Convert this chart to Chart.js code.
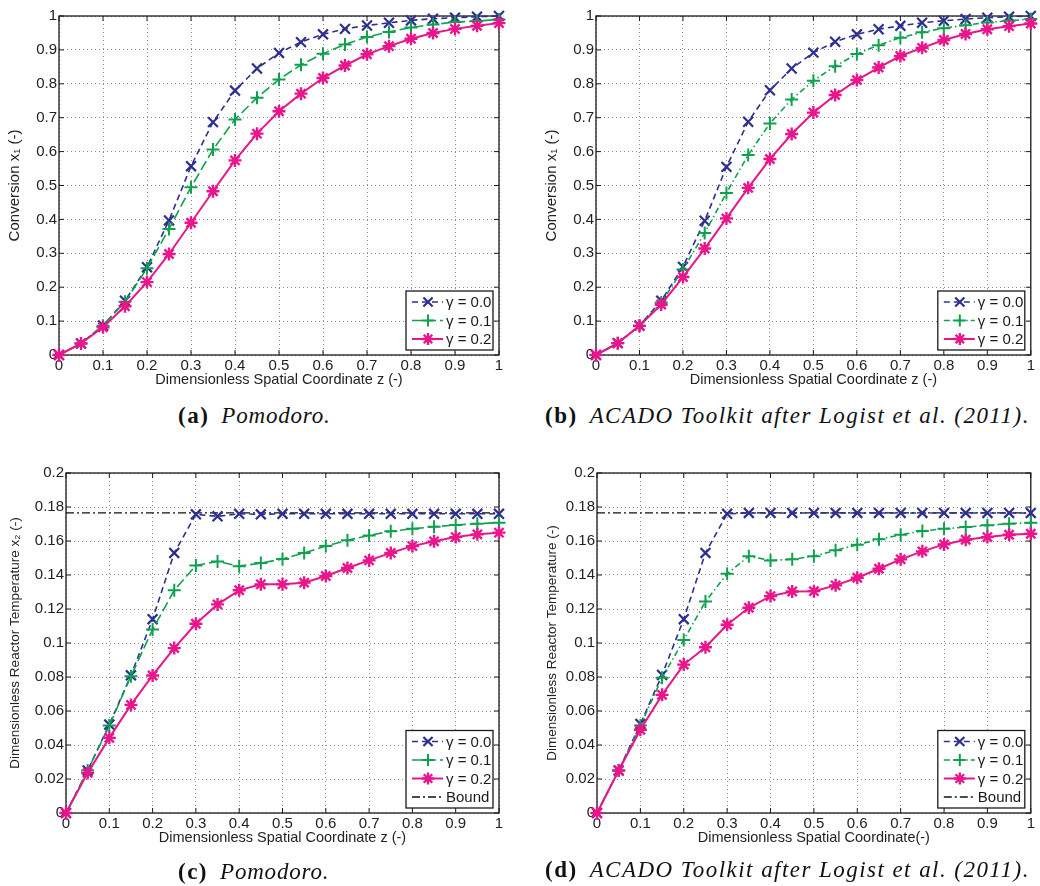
<!DOCTYPE html>
<html>
<head>
<meta charset="utf-8">
<script src="https://cdn.jsdelivr.net/npm/chart.js@4.4.1/dist/chart.umd.min.js"></script>
<style>
  html, body { margin: 0; padding: 0; background: #fff; }
  body { width: 1040px; height: 886px; position: relative; overflow: hidden; }
  canvas { position: absolute; }
  .caption {
    position: absolute;
    font-family: "Liberation Serif", "DejaVu Serif", serif;
    font-size: 23px;
    line-height: 1;
    white-space: nowrap;
    color: #111;
  }
  .caption b { font-weight: bold; margin-right: 12px; letter-spacing: 1.5px; }
  .caption i { font-style: italic; letter-spacing: 0.8px; }
  .caption i.long { letter-spacing: 1.45px; }
</style>
</head>
<body>
<canvas id="chartA" width="520" height="400" style="left:0;top:0"></canvas>
<canvas id="chartB" width="520" height="400" style="left:520px;top:0"></canvas>
<canvas id="chartC" width="520" height="420" style="left:0;top:440px"></canvas>
<canvas id="chartD" width="520" height="420" style="left:520px;top:440px"></canvas>

<div class="caption" style="left:178px;top:404px"><b>(a)</b><i>Pomodoro.</i></div>
<div class="caption" style="left:545px;top:404px"><b>(b)</b><i class="long">ACADO Toolkit after Logist et al. (2011).</i></div>
<div class="caption" style="left:178px;top:860px"><b>(c)</b><i>Pomodoro.</i></div>
<div class="caption" style="left:545px;top:858px"><b>(d)</b><i class="long">ACADO Toolkit after Logist et al. (2011).</i></div>

<script>
// spatial coordinate z, shared by all four panels
const zValues = [0, 0.05, 0.1, 0.15, 0.2, 0.25, 0.3, 0.35, 0.4, 0.45, 0.5,
  0.55, 0.6, 0.65, 0.7, 0.75, 0.8, 0.85, 0.9, 0.95, 1];

const xTicks = [0, 0.1, 0.2, 0.3, 0.4, 0.5, 0.6, 0.7, 0.8, 0.9, 1];
const convTicks = [0, 0.1, 0.2, 0.3, 0.4, 0.5, 0.6, 0.7, 0.8, 0.9, 1];
const tempTicks = [0, 0.02, 0.04, 0.06, 0.08, 0.1, 0.12, 0.14, 0.16, 0.18, 0.2];

const legendLabels = ["γ = 0.0", "γ = 0.1", "γ = 0.2", "Bound"];

// (a) conversion, Pomodoro
const convPomG0 = [0, 0.034, 0.087, 0.16, 0.259, 0.397, 0.557, 0.687, 0.78, 0.845, 0.891,
  0.923, 0.946, 0.962, 0.972, 0.98, 0.987, 0.992, 0.995, 0.998, 1.0];
const convPomG1 = [0, 0.034, 0.086, 0.157, 0.256, 0.372, 0.495, 0.606, 0.695, 0.759, 0.813,
  0.856, 0.889, 0.916, 0.938, 0.953, 0.966, 0.975, 0.982, 0.985, 0.99];
const convPomG2 = [0, 0.034, 0.082, 0.144, 0.215, 0.298, 0.39, 0.483, 0.574, 0.653, 0.719,
  0.771, 0.817, 0.854, 0.887, 0.911, 0.933, 0.95, 0.962, 0.971, 0.979];

// (b) conversion, ACADO
const convAcaG0 = [0, 0.035, 0.087, 0.16, 0.26, 0.396, 0.555, 0.688, 0.781, 0.845, 0.892,
  0.924, 0.946, 0.961, 0.971, 0.98, 0.986, 0.991, 0.995, 0.998, 1.0];
const convAcaG1 = [0, 0.035, 0.086, 0.155, 0.252, 0.36, 0.478, 0.59, 0.683, 0.754, 0.809,
  0.852, 0.888, 0.914, 0.936, 0.952, 0.964, 0.973, 0.981, 0.986, 0.991];
const convAcaG2 = [0, 0.035, 0.086, 0.149, 0.23, 0.314, 0.403, 0.493, 0.578, 0.652, 0.715,
  0.767, 0.811, 0.848, 0.882, 0.906, 0.929, 0.947, 0.961, 0.97, 0.978];

// (c) temperature, Pomodoro
const tempPomG0 = [0, 0.025, 0.052, 0.081, 0.114, 0.153, 0.1757, 0.1745, 0.176, 0.1757, 0.176,
  0.176, 0.176, 0.176, 0.176, 0.176, 0.176, 0.176, 0.176, 0.176, 0.176];
const tempPomG1 = [0, 0.025, 0.0514, 0.0805, 0.108, 0.131, 0.1456, 0.148, 0.1452, 0.147, 0.1494,
  0.153, 0.157, 0.1604, 0.1633, 0.1657, 0.1672, 0.1684, 0.1694, 0.1702, 0.1708];
const tempPomG2 = [0, 0.0236, 0.0442, 0.0636, 0.0809, 0.097, 0.1113, 0.1227, 0.131, 0.1345, 0.1345,
  0.1355, 0.1394, 0.1441, 0.1486, 0.153, 0.157, 0.1598, 0.1623, 0.1639, 0.1649];

// (d) temperature, ACADO
const tempAcaG0 = [0, 0.025, 0.0524, 0.0812, 0.114, 0.153, 0.176, 0.1765, 0.1765, 0.1765, 0.1765,
  0.1765, 0.1765, 0.1765, 0.1765, 0.1765, 0.1765, 0.1765, 0.1765, 0.1765, 0.1765];
const tempAcaG1 = [0, 0.025, 0.0514, 0.0795, 0.1018, 0.1244, 0.1407, 0.1511, 0.1486, 0.1492, 0.1511,
  0.1545, 0.1578, 0.161, 0.1637, 0.1659, 0.1672, 0.1682, 0.1692, 0.1702, 0.1708];
const tempAcaG2 = [0, 0.025, 0.049, 0.0695, 0.0873, 0.0975, 0.1107, 0.1207, 0.1276, 0.1303, 0.1305,
  0.1339, 0.1384, 0.1437, 0.1492, 0.1539, 0.158, 0.1607, 0.1623, 0.1637, 0.1643];

const boundValue = 0.1765;
const boundRange = [0, 1];

const BLUE = "#2d2f8f";
const GREEN = "#0fa14f";
const PINK = "#e8168b";
const FONT = "'Liberation Sans', Arial, sans-serif";

const toPoints = (ys) => ys.map((y, i) => ({ x: zValues[i], y: y }));

// box, inward ticks and legend the way matlab draws them
const matlabBox = {
  id: "matlabBox",
  beforeDatasetsDraw(chart) {
    const { ctx, chartArea: a, scales } = chart;
    ctx.save();
    ctx.strokeStyle = "#1a1a1a";
    ctx.lineWidth = 1.3;
    ctx.strokeRect(a.left, a.top, a.right - a.left, a.bottom - a.top);
    ctx.lineWidth = 1;
    ctx.beginPath();
    scales.x.ticks.forEach((t) => {
      const px = scales.x.getPixelForValue(t.value);
      ctx.moveTo(px, a.bottom); ctx.lineTo(px, a.bottom - 5);
      ctx.moveTo(px, a.top); ctx.lineTo(px, a.top + 5);
    });
    scales.y.ticks.forEach((t) => {
      const py = scales.y.getPixelForValue(t.value);
      ctx.moveTo(a.left, py); ctx.lineTo(a.left + 5, py);
      ctx.moveTo(a.right, py); ctx.lineTo(a.right - 5, py);
    });
    ctx.stroke();
    ctx.restore();
  },
  afterDatasetsDraw(chart) {
    const { ctx, chartArea: a } = chart;
    const sets = chart.data.datasets;
    const rowH = 18.5;
    const w = 87;
    const h = rowH * sets.length + 3.5;
    const left = a.right - 6 - w;
    const top = a.bottom - 5 - h;
    ctx.save();
    ctx.fillStyle = "#fff";
    ctx.fillRect(left, top, w, h);
    ctx.strokeStyle = "#1a1a1a";
    ctx.lineWidth = 1.3;
    ctx.strokeRect(left, top, w, h);
    sets.forEach((ds, i) => {
      const y = top + 11 + i * rowH;
      ctx.strokeStyle = ds.borderColor;
      ctx.lineWidth = ds.borderWidth;
      ctx.setLineDash(ds.borderDash || []);
      ctx.beginPath();
      ctx.moveTo(left + 6, y);
      ctx.lineTo(left + 37, y);
      ctx.stroke();
      ctx.setLineDash([]);
      if (ds.pointStyle) {
        ctx.lineWidth = ds.pointBorderWidth;
        Chart.helpers.drawPoint(ctx, {
          pointStyle: ds.pointStyle, radius: ds.pointRadius - 0.5,
          borderWidth: ds.pointBorderWidth, rotation: 0
        }, left + 22, y);
      }
      ctx.fillStyle = "#1a1a1a";
      ctx.font = "15px " + FONT;
      ctx.textBaseline = "middle";
      ctx.fillText(ds.label, left + 40, y + 1);
    });
    ctx.restore();
  }
};

function makePanel(id, box, yTicks, yTitle, xTitle, ys, greenDash, withBound) {
  const canvas = document.getElementById(id);
  const datasets = [
    {
      label: legendLabels[0], data: toPoints(ys[0]), borderColor: BLUE, backgroundColor: BLUE,
      borderWidth: 1.6, borderDash: [6, 4], pointStyle: "crossRot", pointRadius: 7,
      pointBorderWidth: 2.2, order: 3
    },
    {
      label: legendLabels[1], data: toPoints(ys[1]), borderColor: GREEN, backgroundColor: GREEN,
      borderWidth: 1.6, borderDash: greenDash, pointStyle: "cross", pointRadius: 6.5,
      pointBorderWidth: 2, order: 2
    },
    {
      label: legendLabels[2], data: toPoints(ys[2]), borderColor: PINK, backgroundColor: PINK,
      borderWidth: 2, borderDash: [], pointStyle: "star", pointRadius: 6.5,
      pointBorderWidth: 2.4, order: 1
    }
  ];
  if (withBound) {
    datasets.push({
      label: legendLabels[3],
      data: boundRange.map((x) => ({ x: x, y: boundValue })),
      borderColor: "#111", borderWidth: 1.3, borderDash: [8, 3, 2, 3],
      pointStyle: false, pointRadius: 0, pointBorderWidth: 0, order: 4
    });
  }
  datasets.forEach((d) => { d.clip = false; d.tension = 0; d.fill = false; });

  const tickFont = { family: FONT, size: 15 };
  const xTitleFont = { family: FONT, size: 14.5, lineHeight: 1 };
  const yTitleFont = { family: FONT, size: box.yTitleSize, lineHeight: 1 };

  return new Chart(canvas, {
    type: "line",
    data: { datasets: datasets },
    options: {
      responsive: false,
      animation: false,
      layout: { padding: { left: 0, top: box.top, right: canvas.width - box.right, bottom: 0 } },
      plugins: { legend: { display: false }, tooltip: { enabled: false } },
      scales: {
        x: {
          type: "linear", min: 0, max: 1,
          afterBuildTicks: (s) => { s.ticks = xTicks.map((v) => ({ value: v })); },
          afterFit: (s) => { s.height = canvas.height - box.bottom; },
          ticks: { font: tickFont, color: "#222", padding: 2, maxRotation: 0, autoSkip: false,
            callback: (v) => String(v) },
          grid: { color: "rgba(0,0,0,0.45)", lineWidth: 1, drawTicks: false },
          border: { display: false, dash: [1, 3] },
          title: { display: true, text: xTitle, font: xTitleFont, color: "#222",
            padding: { top: 0, bottom: canvas.height - box.xTitleY - 7.25 } }
        },
        y: {
          type: "linear", min: yTicks[0], max: yTicks[yTicks.length - 1],
          afterBuildTicks: (s) => { s.ticks = yTicks.map((v) => ({ value: v })); },
          afterFit: (s) => { s.width = box.left; },
          ticks: { font: tickFont, color: "#222", padding: 2, autoSkip: false,
            callback: (v) => String(v) },
          grid: { color: "rgba(0,0,0,0.45)", lineWidth: 1, drawTicks: false },
          border: { display: false, dash: [1, 3] },
          title: { display: true, text: yTitle, font: yTitleFont, color: "#222",
            padding: { top: box.yTitleX - box.yTitleSize / 2, bottom: 0 } }
        }
      }
    },
    plugins: [matlabBox]
  });
}

const dashedGreen = [10, 4];
const dashDotGreen = [6, 3, 1.5, 3];

makePanel("chartA", { left: 59, top: 16, right: 499, bottom: 355, yTitleX: 15, xTitleY: 380, yTitleSize: 15 },
  convTicks, "Conversion x\u2081 (-)", "Dimensionless Spatial Coordinate z (-)",
  [convPomG0, convPomG1, convPomG2], dashedGreen, false);

makePanel("chartB", { left: 76, top: 16, right: 515, bottom: 355, yTitleX: 32, xTitleY: 380, yTitleSize: 15 },
  convTicks, "Conversion x\u2081 (-)", "Dimensionless Spatial Coordinate z (-)",
  [convAcaG0, convAcaG1, convAcaG2], dashDotGreen, false);

makePanel("chartC", { left: 66, top: 33, right: 499, bottom: 373, yTitleX: 15, xTitleY: 398, yTitleSize: 13.5 },
  tempTicks, "Dimensionless Reactor Temperature x\u2082 (-)", "Dimensionless Spatial Coordinate z (-)",
  [tempPomG0, tempPomG1, tempPomG2], dashedGreen, true);

makePanel("chartD", { left: 77, top: 33, right: 515, bottom: 373, yTitleX: 32, xTitleY: 398, yTitleSize: 13.5 },
  tempTicks, "Dimensionless Reactor Temperature (-)", "Dimensionless Spatial Coordinate(-)",
  [tempAcaG0, tempAcaG1, tempAcaG2], dashDotGreen, true);
</script>
</body>
</html>
